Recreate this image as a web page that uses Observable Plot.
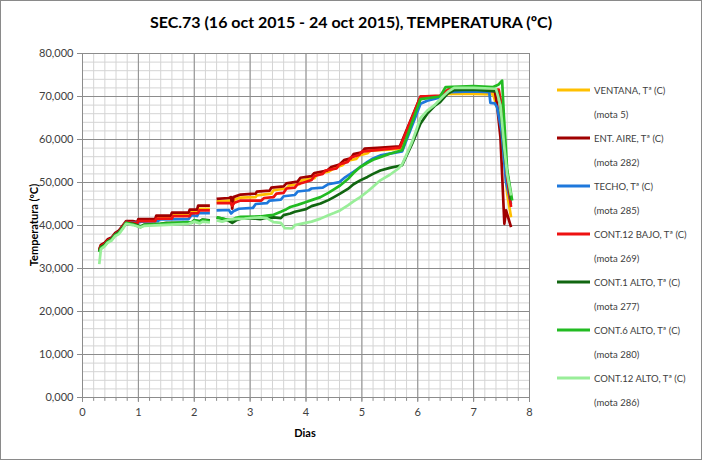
<!DOCTYPE html>
<html><head><meta charset="utf-8">
<script src="https://cdn.jsdelivr.net/npm/d3@7"></script>
<script src="https://cdn.jsdelivr.net/npm/@observablehq/plot@0.6"></script>
<style>
body{margin:0;background:#fff;}
#wrap{position:relative;width:702px;height:460px;box-sizing:border-box;border:1px solid #8a8a8a;overflow:hidden;font-family:Lato,sans-serif;background:#fff;}
#inner{position:absolute;left:-1px;top:-1px;width:702px;height:460px;}
#title{position:absolute;left:0;width:702px;top:12px;text-align:center;font-weight:bold;font-size:16px;color:#000;white-space:nowrap;}
#chart{position:absolute;left:0;top:0;}
#ylab{position:absolute;left:33px;top:225px;transform:translate(-50%,-50%) rotate(-90deg);font-weight:bold;font-size:11px;color:#000;white-space:nowrap;}
#xlab{position:absolute;left:305px;top:432px;transform:translate(-50%,-50%);font-weight:bold;font-size:11px;color:#000;}
.lt{position:absolute;left:594px;font-size:9.5px;color:#404040;white-space:nowrap;transform:translateY(-50%);}
.ll{position:absolute;left:557px;width:33px;height:3px;transform:translateY(-50%);}
</style></head>
<body>
<div id="wrap"><div id="inner">
<div id="title"></div>
<div id="chart"></div>
<div id="ylab"></div>
<div id="xlab"></div>
<div id="legend"></div>
</div></div>
<script>
const titleText = "SEC.73 (16 oct 2015 - 24 oct 2015), TEMPERATURA (ºC)";
const yLabel = "Temperatura (ºC)";
const xLabel = "Dias";
const seriesNames = ["VENTANA, Tª (C)", "ENT. AIRE, Tª (C)", "TECHO, Tª (C)", "CONT.12 BAJO, Tª (C)", "CONT.1 ALTO, Tª (C)", "CONT.6 ALTO, Tª (C)", "CONT.12 ALTO, Tª (C)"];
const motaLabels = ["(mota 5)", "(mota 282)", "(mota 285)", "(mota 269)", "(mota 277)", "(mota 280)", "(mota 286)"];
const colors = ["#FFC000", "#A00000", "#1E78DC", "#EE1111", "#116611", "#22BB22", "#99EE99"];
const xTicks = [0,1,2,3,4,5,6,7,8];
const yTicks = [0,10,20,30,40,50,60,70,80];
const xMinor = d3.range(0, 8.001, 0.2).map(v => +v.toFixed(1));
const yMinor = d3.range(0, 80.001, 2);

const ventana = [[0.30,34.3],[0.33,35.3],[0.40,35.8],[0.45,36.6],[0.52,37],[0.58,38],[0.65,38.6],[0.72,39.8],[0.78,40.8],[0.98,40.6],[1.0,41.2],[1.3,41.2],[1.32,41.8],[1.6,41.8],[1.62,42.5],[1.92,42.5],[1.94,43.1],[2.07,43.2],[2.09,43.9],[2.28,43.9],[2.34,null],[2.40,45.6],[2.65,45.8],[2.68,44.5],[2.72,46],[2.83,46.5],[3.1,46.6],[3.12,47],[3.38,47.4],[3.42,48.2],[3.65,48.6],[3.7,49.3],[3.88,49.6],[3.92,50.5],[4.15,51],[4.2,52],[4.4,52.5],[4.5,53.3],[4.65,54],[4.72,55],[4.9,55.5],[4.95,56.3],[5.1,56.8],[5.15,57.4],[5.4,57.6],[5.7,57.9],[6.05,69.5],[6.4,70],[6.55,70.6],[7.0,70.6],[7.35,70.5],[7.45,66],[7.5,62.9],[7.6,47.4],[7.67,41.9]];
const entAire = [[0.30,34.5],[0.33,35.5],[0.40,36],[0.45,36.8],[0.52,37.2],[0.58,38.2],[0.65,38.8],[0.72,40],[0.78,41],[0.9,41],[0.98,40.8],[1.0,41.5],[1.3,41.5],[1.32,42.3],[1.58,42.3],[1.6,43],[1.9,43],[1.92,43.7],[2.05,43.7],[2.07,44.6],[2.28,44.6],[2.34,null],[2.40,46.2],[2.62,46.4],[2.66,46.6],[2.68,43.9],[2.70,46.6],[2.83,47.2],[3.1,47.4],[3.12,47.9],[3.35,48.1],[3.38,48.8],[3.6,49.1],[3.65,49.8],[3.85,50.2],[3.9,51.1],[4.1,51.5],[4.15,52.2],[4.38,52.8],[4.45,53.6],[4.6,54.2],[4.68,55.2],[4.8,55.6],[4.85,56.6],[5.0,57],[5.05,57.9],[5.35,58.1],[5.68,58.4],[6.05,70],[6.4,70],[6.55,71.6],[7.0,71.4],[7.38,71.2],[7.42,68],[7.48,60.5],[7.55,40.4],[7.58,43.5],[7.67,39.6]];
const techo = [[0.30,34],[0.33,35],[0.40,35.6],[0.45,36.4],[0.52,36.9],[0.58,37.9],[0.65,38.5],[0.72,39.6],[0.78,40.8],[0.98,40.6],[1.05,40.9],[1.35,41],[1.38,41.4],[1.9,41.5],[1.95,42.4],[2.05,42.2],[2.08,42.9],[2.28,42.9],[2.34,null],[2.40,43.5],[2.62,43.6],[2.66,42.8],[2.70,43.3],[2.8,43.9],[3.05,44.1],[3.1,45],[3.3,45.2],[3.35,45.8],[3.55,46],[3.6,46.8],[3.8,47.1],[3.85,47.9],[4.05,48.2],[4.1,48.6],[4.3,48.8],[4.4,49.6],[4.6,50.1],[4.7,51.2],[4.85,52.5],[4.97,53.6],[5.1,54.8],[5.2,55.6],[5.33,56.3],[5.5,56.7],[5.72,57.2],[6.05,68.3],[6.17,69],[6.4,69.8],[6.55,71],[7.0,71.2],[7.28,71],[7.3,68.5],[7.38,68.4],[7.42,67.5],[7.5,62],[7.58,50],[7.67,45]];
const cont12Bajo = [[0.30,34.2],[0.33,35.2],[0.40,35.7],[0.45,36.5],[0.52,36.9],[0.58,37.9],[0.65,38.5],[0.72,39.7],[0.78,40.8],[0.98,40.5],[1.0,41],[1.3,41],[1.32,41.6],[1.6,41.6],[1.62,42.2],[1.92,42.2],[1.94,42.8],[2.07,42.9],[2.09,43.5],[2.28,43.5],[2.34,null],[2.40,45.2],[2.66,45.2],[2.68,44.6],[2.72,45.3],[2.83,45.8],[3.2,45.8],[3.25,46.4],[3.42,46.6],[3.47,47.4],[3.6,47.6],[3.65,48.6],[3.8,48.8],[3.85,49.6],[3.99,50.1],[4.1,50.6],[4.15,51.5],[4.3,52],[4.35,52.8],[4.55,53.3],[4.6,54.2],[4.75,54.8],[4.8,55.8],[4.95,56.4],[5.0,57.2],[5.3,57.6],[5.68,58.1],[6.05,70],[6.4,70.2],[6.55,71.6],[7.0,71.8],[7.45,71.6],[7.5,68],[7.6,51.2],[7.67,44.3]];
const cont1Alto = [[0.30,34],[0.33,35],[0.40,35.5],[0.45,36.3],[0.52,36.8],[0.58,37.8],[0.65,38.4],[0.72,39.5],[0.78,40.6],[0.9,40.4],[1.04,39.8],[1.1,40.2],[1.4,40.4],[1.5,40.6],[1.95,40.7],[2.0,41.2],[2.1,41],[2.15,41.4],[2.28,41.2],[2.34,null],[2.40,41.9],[2.5,41.6],[2.6,41.2],[2.68,40.6],[2.75,41.2],[2.83,41.6],[3.1,41.6],[3.18,41.5],[3.3,41.8],[3.42,41.9],[3.55,41.7],[3.6,42.4],[3.72,42.8],[3.8,43.2],[3.9,43.5],[4.0,43.8],[4.1,44.5],[4.26,45.1],[4.4,45.9],[4.5,46.6],[4.61,47.4],[4.75,48.5],[4.85,49.6],[4.97,50.5],[5.1,51.3],[5.2,52],[5.33,52.8],[5.5,53.4],[5.72,54.0],[5.9,59],[6.05,63.7],[6.17,66],[6.3,67.8],[6.4,68.7],[6.53,70.6],[6.65,71.5],[7.0,71.6],[7.42,71.2],[7.48,68],[7.55,57],[7.67,46]];
const cont6Alto = [[0.30,33.8],[0.33,34.8],[0.40,35.4],[0.45,36.2],[0.52,36.7],[0.58,37.7],[0.65,38.3],[0.72,39.4],[0.78,40.6],[0.9,40.3],[1.04,39.6],[1.1,40.1],[1.4,40.4],[1.88,40.8],[1.95,40.6],[2.0,41.2],[2.1,40.8],[2.15,41.3],[2.28,41.0],[2.34,null],[2.40,41.9],[2.55,41.5],[2.68,41.3],[2.75,41.8],[2.83,42.0],[3.18,42.1],[3.3,42.3],[3.42,42.5],[3.55,43.2],[3.65,43.8],[3.72,44.3],[3.85,44.8],[3.99,45.4],[4.1,45.9],[4.26,46.6],[4.4,47.6],[4.5,48.4],[4.61,49.3],[4.75,50.8],[4.85,52.2],[4.97,53.6],[5.1,54.6],[5.2,55.3],[5.33,55.9],[5.5,56.7],[5.72,57.5],[6.05,69.4],[6.4,70],[6.5,72.2],[7.0,72.4],[7.35,72.2],[7.45,72.8],[7.51,73.7],[7.54,66],[7.6,53],[7.69,45.8]];
const cont12Alto = [[0.30,31],[0.33,34.5],[0.40,35.2],[0.45,36],[0.52,36.5],[0.58,37.5],[0.65,38],[0.72,39.2],[0.78,40.4],[0.9,40.1],[1.04,39.6],[1.1,39.9],[1.4,40.1],[1.9,40.4],[2.0,40.9],[2.1,40.5],[2.15,40.9],[2.28,40.7],[2.34,null],[2.40,41.2],[2.5,40.9],[2.6,41.3],[2.68,41.5],[2.9,41.6],[3.18,41.9],[3.3,41.7],[3.42,40.8],[3.55,40.6],[3.62,39.4],[3.75,39.3],[3.8,40.1],[3.99,40.6],[4.1,40.9],[4.26,41.6],[4.4,42.4],[4.5,42.9],[4.61,43.5],[4.75,44.7],[4.85,45.6],[4.97,46.6],[5.1,47.9],[5.2,49],[5.33,50.5],[5.5,51.8],[5.65,53.2],[5.72,54.2],[5.9,59.5],[6.05,65],[6.17,66.7],[6.3,68],[6.45,70],[6.55,71.2],[6.65,72],[7.0,72],[7.4,71.8],[7.48,68],[7.55,58],[7.6,52],[7.67,47]];

const seriesData = [ventana, entAire, techo, cont12Bajo, cont1Alto, cont6Alto, cont12Alto];

const rows = seriesData.flatMap((arr, i) => arr.map(([x, y]) => ({series: seriesNames[i], x, y})));

const grid = "#8c8c8c", minor = "#d4d4d4";
const fmtY = d => d.toFixed(3).replace(".", ",");

const chart = Plot.plot({
  width: 545, height: 460,
  marginLeft: 82, marginRight: 16, marginTop: 53, marginBottom: 63,
  x: {domain: [0, 8], label: null},
  y: {domain: [0, 80], label: null},
  color: {domain: seriesNames, range: colors},
  style: {fontFamily: "Lato, sans-serif", fontSize: "11px", color: "#404040", background: "transparent"},
  marks: [
    Plot.ruleX(xMinor, {stroke: minor, strokeWidth: 1}),
    Plot.ruleY(yMinor, {stroke: minor, strokeWidth: 1}),
    Plot.ruleX(xMinor, {y1: 0, y2: -0.9, stroke: grid}),
    Plot.ruleX(xTicks, {stroke: grid, strokeWidth: 1}),
    Plot.ruleY(yTicks, {stroke: grid, strokeWidth: 1}),
    Plot.axisX({ticks: xTicks, tickFormat: d => String(d), tickSize: 5, tickPadding: 6, stroke: grid, fill: "#404040", fontSize: 11}),
    Plot.axisY({ticks: yTicks, tickFormat: fmtY, tickSize: 5, tickPadding: 4, stroke: grid, fill: "#404040", fontSize: 11}),
    ...seriesNames.map(name => Plot.line(rows.filter(r => r.series === name), {x: "x", y: "y", stroke: "series", strokeWidth: 2.7, strokeLinejoin: "round", strokeLinecap: "butt"}))
  ]
});
document.getElementById("chart").appendChild(chart);
document.getElementById("title").textContent = titleText;
document.getElementById("ylab").textContent = yLabel;
document.getElementById("xlab").textContent = xLabel;

const leg = document.getElementById("legend");
seriesNames.forEach((name, i) => {
  const yc = 90 + i * 48;
  const l = document.createElement("div"); l.className = "ll"; l.style.top = yc + "px"; l.style.background = colors[i]; leg.appendChild(l);
  const t = document.createElement("div"); t.className = "lt"; t.style.top = yc + "px"; t.textContent = name; leg.appendChild(t);
  const m = document.createElement("div"); m.className = "lt"; m.style.top = (yc + 24) + "px"; m.textContent = motaLabels[i]; leg.appendChild(m);
});
</script>
</body></html>
